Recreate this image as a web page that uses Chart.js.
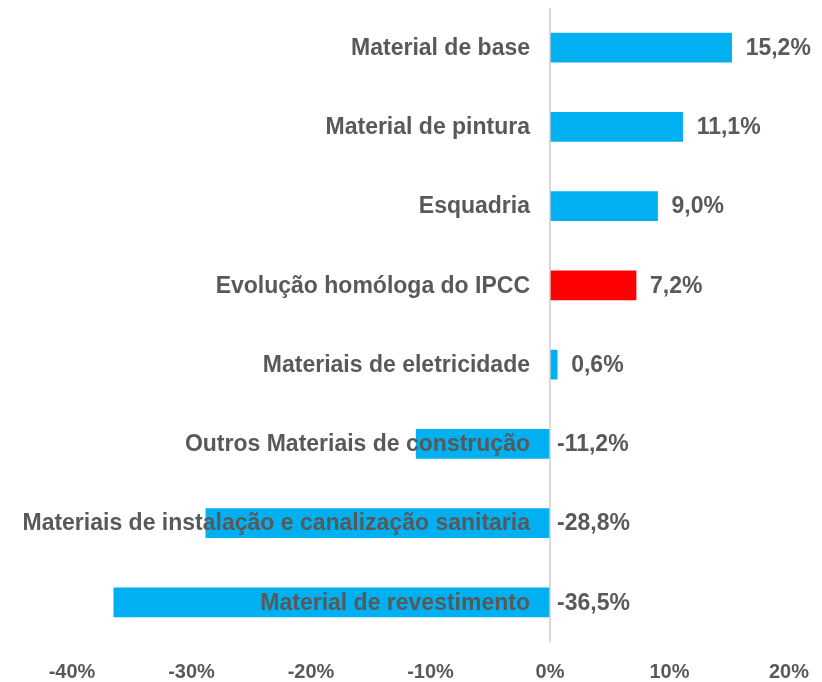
<!DOCTYPE html>
<html>
<head>
<meta charset="utf-8">
<script src="https://cdn.jsdelivr.net/npm/chart.js@4"></script>
<style>
  html, body { margin: 0; padding: 0; background: #fff; }
  #wrap { width: 822px; height: 682px; }
</style>
</head>
<body>
<div id="wrap"><canvas id="barChart" width="822" height="682"></canvas></div>
<script>
// data
var categories = [
  "Material de base",
  "Material de pintura",
  "Esquadria",
  "Evolução homóloga do IPCC",
  "Materiais de eletricidade",
  "Outros Materiais de construção",
  "Materiais de instalação e canalização sanitaria",
  "Material de revestimento"
];
var values = [15.2, 11.1, 9.0, 7.2, 0.6, -11.2, -28.8, -36.5];
var valueLabels = ["15,2%", "11,1%", "9,0%", "7,2%", "0,6%", "-11,2%", "-28,8%", "-36,5%"];
var tickLabels = { "-40": "-40%", "-30": "-30%", "-20": "-20%", "-10": "-10%", "0": "0%", "10": "10%", "20": "20%" };

var textColor = "#595959";
var barColors = categories.map(function (c) {
  return c === "Evolução homóloga do IPCC" ? "#FF0000" : "#00B0F0";
});

// category names (right aligned at the axis) and value labels
var labelPlugin = {
  id: "labelPlugin",
  afterDatasetsDraw: function (chart) {
    var ctx = chart.ctx;
    var xs = chart.scales.x;
    var meta = chart.getDatasetMeta(0);
    var zero = xs.getPixelForValue(0);
    ctx.save();
    ctx.fillStyle = textColor;
    ctx.font = "bold 23px 'Liberation Sans', Arial, sans-serif";
    ctx.textBaseline = "middle";
    meta.data.forEach(function (bar, i) {
      ctx.textAlign = "right";
      ctx.fillText(categories[i], zero - 20, bar.y + 1);
      ctx.textAlign = "left";
      var x = values[i] > 0 ? bar.x + 14 : zero + 7;
      ctx.fillText(valueLabels[i], x, bar.y + 1);
    });
    ctx.restore();
  }
};

var ctx = document.getElementById("barChart").getContext("2d");
var myBarChart = new Chart(ctx, {
  type: "bar",
  data: {
    labels: categories,
    datasets: [{
      data: values,
      backgroundColor: barColors,
      borderWidth: 0,
      barThickness: 29
    }]
  },
  options: {
    indexAxis: "y",
    responsive: false,
    animation: false,
    layout: { padding: { left: 72, right: 33, top: 8, bottom: 0 } },
    scales: {
      x: {
        min: -40,
        max: 20,
        ticks: {
          stepSize: 10,
          color: textColor,
          padding: 18,
          font: { family: "'Liberation Sans', Arial, sans-serif", size: 20, weight: "bold" },
          callback: function (v) { return tickLabels[String(v)]; }
        },
        grid: {
          drawTicks: false,
          lineWidth: 2,
          color: function (c) { return c.tick && c.tick.value === 0 ? "#D9D9D9" : "rgba(0,0,0,0)"; }
        },
        border: { display: false },
        afterFit: function (scale) {
          scale.height = 40;
          scale.paddingLeft = 0;
          scale.paddingRight = 0;
        }
      },
      y: {
        display: false
      }
    },
    plugins: {
      legend: { display: false },
      tooltip: { enabled: false }
    }
  },
  plugins: [labelPlugin]
});
</script>
</body>
</html>
